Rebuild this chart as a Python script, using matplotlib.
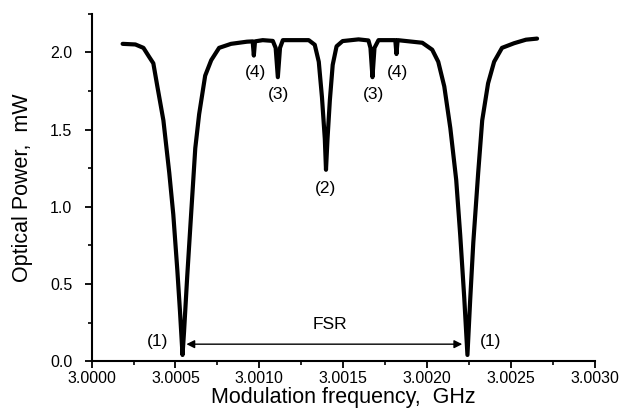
import matplotlib
matplotlib.use("Agg")
import matplotlib.pyplot as plt
from matplotlib.ticker import MultipleLocator, FormatStrFormatter

plt.rcParams['font.family'] = ['Liberation Sans', 'DejaVu Sans']

# transmission trace (GHz, mW)
freq = [3.000185, 3.000261, 3.000309, 3.000344, 3.000368, 3.000392, 3.000428,
        3.000463, 3.000487, 3.000511, 3.000527, 3.000542, 3.000551, 3.000570,
        3.000589, 3.000618, 3.000641, 3.000677, 3.000713, 3.000760, 3.000831,
        3.000926, 3.000960, 3.000967, 3.000974, 3.001020, 3.001080, 3.001097,
        3.001110, 3.001123, 3.001140, 3.001294, 3.001330, 3.001354, 3.001373,
        3.001390, 3.001397, 3.001406, 3.001420, 3.001437, 3.001460, 3.001496,
        3.001591, 3.001650, 3.001662, 3.001674, 3.001686, 3.001710, 3.001810,
        3.001817, 3.001824, 3.001971, 3.002030, 3.002066, 3.002102, 3.002138,
        3.002173, 3.002197, 3.002221, 3.002240, 3.002256, 3.002275, 3.002304,
        3.002328, 3.002363, 3.002399, 3.002446, 3.002518, 3.002589, 3.002655]
power = [2.056, 2.052, 2.030, 1.970, 1.930, 1.780, 1.560,
         1.220, 0.950, 0.590, 0.320, 0.040, 0.190, 0.550,
         0.880, 1.380, 1.600, 1.850, 1.950, 2.030, 2.056,
         2.070, 2.072, 1.980, 2.072, 2.080, 2.075, 2.030,
         1.840, 2.030, 2.080, 2.080, 2.050, 1.940, 1.710,
         1.440, 1.240, 1.440, 1.690, 1.920, 2.040, 2.074,
         2.085, 2.078, 2.030, 1.840, 2.030, 2.080, 2.080,
         1.990, 2.080, 2.063, 2.018, 1.940, 1.780, 1.510,
         1.175, 0.816, 0.410, 0.040, 0.390, 0.770, 1.220,
         1.560, 1.800, 1.940, 2.030, 2.060, 2.083, 2.090]

# mode labels
lab_text = ['(1)', '(4)', '(3)', '(2)', '(3)', '(4)', '(1)']
lab_x = [3.000392, 3.000974, 3.001116, 3.001397, 3.001679, 3.001822, 3.002380]
lab_y = [0.13, 1.87, 1.73, 1.12, 1.73, 1.87, 0.13]

fig = plt.figure(figsize=(6.23, 4.09), dpi=100)
ax = fig.add_axes([0.147, 0.117, 0.808, 0.849])

ax.plot(freq, power, color='black', lw=3.0, solid_capstyle='round',
        solid_joinstyle='round')

for t, x, y in zip(lab_text, lab_x, lab_y):
    ax.text(x, y, t, ha='center', va='center', fontsize=12.5)

ax.annotate('', xy=(3.000565, 0.11), xytext=(3.002209, 0.11),
            arrowprops=dict(arrowstyle='<|-|>', color='black', lw=1.0,
                            mutation_scale=12, shrinkA=0, shrinkB=0))
ax.text(3.00142, 0.235, 'FSR', ha='center', va='center', fontsize=12.5)

ax.set_xlim(3.0000, 3.0030)
ax.set_ylim(0.0, 2.25)
ax.xaxis.set_major_locator(MultipleLocator(0.0005))
ax.xaxis.set_minor_locator(MultipleLocator(0.00025))
ax.yaxis.set_major_locator(MultipleLocator(0.5))
ax.yaxis.set_minor_locator(MultipleLocator(0.25))
ax.xaxis.set_major_formatter(FormatStrFormatter('%.4f'))
ax.yaxis.set_major_formatter(FormatStrFormatter('%.1f'))

for s in ['top', 'right']:
    ax.spines[s].set_visible(False)
for s in ['left', 'bottom']:
    ax.spines[s].set_linewidth(1.5)
ax.tick_params(which='major', direction='out', length=5, width=1.3, labelsize=11.5)
ax.tick_params(which='minor', direction='out', length=3, width=1.2)
ax.tick_params(axis='x', which='major', pad=2)
ax.tick_params(axis='y', which='major', pad=9)

ax.set_xlabel('Modulation frequency,  GHz', fontsize=15.5, labelpad=1)
ax.set_ylabel('Optical Power,  mW', fontsize=15.5, labelpad=12)

fig.savefig('out.png', dpi=100)
